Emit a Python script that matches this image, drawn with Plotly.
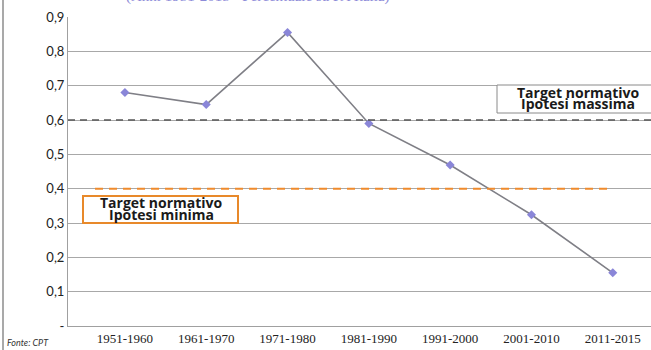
import plotly.graph_objects as go

categories = ["1951-1960", "1961-1970", "1971-1980", "1981-1990", "1991-2000", "2001-2010", "2011-2015"]
values = [0.68, 0.645, 0.855, 0.59, 0.469, 0.324, 0.155]
y_ticks = [0, 0.1, 0.2, 0.3, 0.4, 0.5, 0.6, 0.7, 0.8, 0.9]
y_tick_labels = ["-", "0,1", "0,2", "0,3", "0,4", "0,5", "0,6", "0,7", "0,8", "0,9"]
target_min = 0.4
target_max = 0.6

W, H = 651, 350
L, R, T, B = 68, 0, 17, 24
pw = W - L - R
ph = H - T - B

def px(xpix):
    return (xpix - L) / pw

def py(ypix):
    return (H - B - ypix) / ph

fig = go.Figure()
fig.add_trace(go.Scatter(
    x=categories, y=values, mode="lines+markers",
    line=dict(color="#7f7f86", width=1.6),
    marker=dict(symbol="diamond", size=7, color="#8a86d8", line=dict(width=0)),
    showlegend=False, hoverinfo="skip",
))

shapes = [
    dict(type="line", xref="paper", yref="y", x0=0, x1=1, y0=target_max, y1=target_max,
         line=dict(color="#555555", width=1.3, dash="7px,5px"), layer="above"),
    dict(type="line", xref="paper", yref="y", x0=px(95), x1=px(613), y0=target_min, y1=target_min,
         line=dict(color="#ef8a2c", width=2, dash="8px,6px"), layer="above"),
    dict(type="rect", xref="paper", yref="paper", x0=px(83), x1=px(238),
         y0=py(223), y1=py(196),
         line=dict(color="#e8892a", width=2), fillcolor="white", layer="above"),
    dict(type="rect", xref="paper", yref="paper", x0=px(497), x1=px(652),
         y0=py(113), y1=py(85),
         line=dict(color="#8a8a8a", width=1), fillcolor="white", layer="above"),
    dict(type="line", xref="paper", yref="paper", x0=px(3), x1=px(3), y0=py(350), y1=py(0),
         line=dict(color="#8c8c8c", width=1.5)),
]

box_font = dict(family="Open Sans", size=14, color="#1a1a1a")
annotations = [
    dict(text="<b>Target normativo</b>", xref="paper", yref="paper",
         x=px(161), y=py(202.5), xanchor="center", yanchor="middle", showarrow=False, font=box_font),
    dict(text="<b>Ipotesi minima</b>", xref="paper", yref="paper",
         x=px(161), y=py(214), xanchor="center", yanchor="middle", showarrow=False, font=box_font),
    dict(text="<b>Target normativo</b>", xref="paper", yref="paper",
         x=px(578), y=py(92), xanchor="center", yanchor="middle", showarrow=False, font=box_font),
    dict(text="<b>Ipotesi massima</b>", xref="paper", yref="paper",
         x=px(578), y=py(103.5), xanchor="center", yanchor="middle", showarrow=False, font=box_font),
    dict(text="<i>Fonte: CPT</i>", xref="paper", yref="paper", x=px(5), xanchor="left",
         y=py(342), yanchor="middle", showarrow=False,
         font=dict(family="Lato", size=9, color="#333333")),
    dict(text="(Anni 1951-2015 - Percentuale su PA Italia)", xref="paper", yref="paper",
         x=px(258), xanchor="center", y=py(7), yanchor="bottom",
         showarrow=False, font=dict(family="Liberation Serif", size=15, color="#8d8bd8")),
]

fig.update_layout(
    width=W, height=H,
    margin=dict(l=L, r=R, t=T, b=B, autoexpand=False),
    paper_bgcolor="white", plot_bgcolor="white",
    shapes=shapes, annotations=annotations,
    xaxis=dict(type="category", range=[-0.70, 6.47], showgrid=False,
               showline=True, linecolor="#a0a0a0", linewidth=1, ticks="",
               tickfont=dict(family="Liberation Serif", size=13, color="#222222"),
               zeroline=False, fixedrange=True),
    yaxis=dict(range=[0, 0.9], tickvals=y_ticks, ticktext=y_tick_labels,
               showgrid=True, gridcolor="#a8a8a8", gridwidth=1,
               showline=True, linecolor="#a0a0a0", linewidth=1, ticks="",
               tickfont=dict(family="Lato", size=13, color="#222222"),
               zeroline=False, fixedrange=True),
)

fig.write_html("out.html", config={"displayModeBar": False},
               post_script="document.body.style.margin='0';document.body.style.overflow='hidden';")
